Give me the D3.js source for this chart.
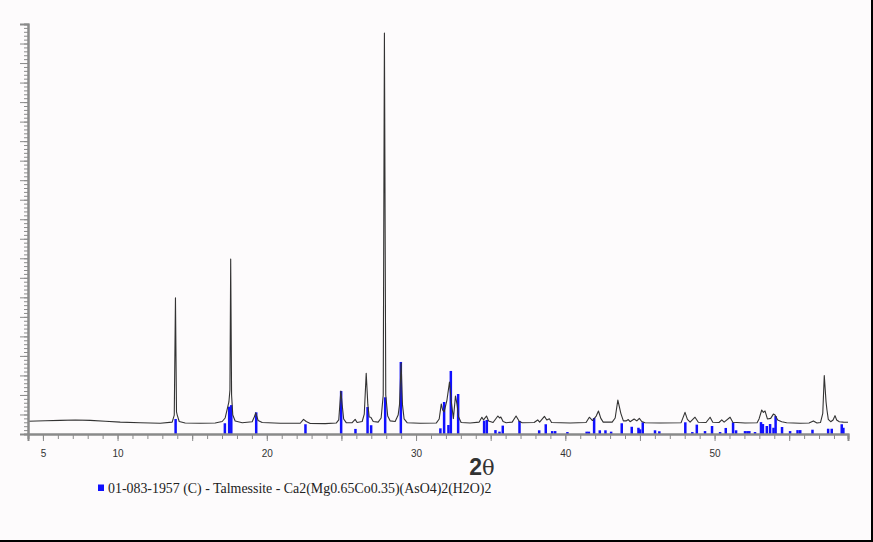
<!DOCTYPE html>
<html><head><meta charset="utf-8">
<script src="https://cdn.jsdelivr.net/npm/d3@7"></script>
<style>
html,body{margin:0;padding:0;background:#fdfbfc;}
svg{display:block;}
</style></head>
<body>
<script>
// ---- data ----
// measured diffraction pattern: [2theta, intensity]
const patternTheta = [4.0,5.16,6.16,7.17,8.17,9.18,10.18,11.52,12.86,13.66,13.80,13.88,13.95,14.0,14.13,14.53,15.54,16.54,17.01,17.21,17.46,17.53,17.58,17.64,17.72,17.88,18.35,19.02,19.16,19.26,19.32,19.42,19.69,20.90,22.24,22.46,22.64,22.91,23.91,24.65,24.82,24.96,25.05,25.15,25.32,25.72,25.92,26.05,26.39,26.53,26.66,26.77,26.86,26.97,27.13,27.46,27.66,27.80,27.88,27.97,28.10,28.27,28.60,28.80,28.89,29.00,29.09,29.20,29.40,30.27,31.35,31.55,31.69,31.78,31.88,32.07,32.24,32.35,32.50,32.64,32.75,32.85,33.02,33.62,34.23,34.41,34.52,34.72,34.86,35.16,35.48,35.60,35.68,35.83,36.04,36.44,36.70,36.91,37.11,37.91,38.15,38.28,38.60,38.76,38.93,39.08,40.32,41.39,41.61,41.82,42.07,42.22,42.38,42.54,43.14,43.34,43.52,43.72,43.89,44.07,44.22,44.34,44.61,44.79,44.96,45.12,45.34,46.35,47.76,48.02,48.18,48.36,48.69,48.91,49.43,49.70,49.88,50.30,50.48,50.64,51.04,51.22,52.04,52.85,52.98,53.16,53.27,53.38,53.54,53.76,53.94,54.05,54.23,54.50,54.83,55.73,56.33,56.62,56.86,57.10,57.25,57.35,57.47,57.53,57.62,57.78,57.94,58.07,58.18,58.36,58.63,58.94];
const patternIntensity = [65,68,70,72,70,65,61,58,55,61,97,697,113,97,64,56,55,56,64,82,164,225,896,200,97,67,58,63,87,108,92,69,59,55,55,75,64,54,53,56,72,220,149,77,58,58,75,59,64,102,311,149,87,86,64,61,82,200,2054,200,92,67,64,97,149,364,149,77,58,55,56,77,154,123,113,174,266,174,79,195,149,87,59,56,61,86,72,92,67,59,92,82,87,64,58,61,92,65,58,59,72,61,90,72,78,59,56,59,86,69,92,118,80,61,61,82,174,106,67,67,74,63,77,67,80,64,58,56,58,111,75,61,86,60,59,86,60,59,72,61,86,60,56,58,77,123,111,118,77,80,102,97,72,63,58,55,56,67,56,59,106,299,164,123,75,63,72,94,72,63,61,60];

// reference pattern 01-083-1957 sticks
const stickTheta = [13.89,17.19,17.48,17.62,19.29,22.59,24.98,25.94,26.75,26.99,27.93,28.98,31.63,31.88,32.17,32.33,32.82,34.56,34.74,35.32,35.59,35.81,36.93,38.25,38.69,39.12,39.32,40.14,41.43,41.58,41.93,42.31,42.69,43.07,43.78,44.45,44.90,45.01,45.19,46.01,46.30,48.04,48.51,48.81,49.36,49.83,50.37,50.75,51.24,51.44,52.04,52.20,52.33,52.71,53.11,53.24,53.50,53.72,53.95,54.09,54.52,55.06,55.56,55.74,56.56,57.61,57.85,58.52,58.63];
const stickIntensity = [77,55,140,148,111,50,220,26,138,45,188,369,29,164,46,323,205,68,72,20,12,43,67,19,50,15,15,10,12,12,82,19,19,12,55,37,32,24,60,19,14,60,10,48,15,41,10,31,60,19,15,15,15,10,61,51,41,51,32,92,36,15,20,20,22,27,27,50,32];

const xTickLabels = [5,10,20,30,40,50];
const xLabelMain = "2";
const xLabelSymbol = "θ";
const legendText = "01-083-1957 (C) - Talmessite - Ca2(Mg0.65Co0.35)(AsO4)2(H2O)2";

// ---- drawing ----
const W = 873, H = 542;
const svg = d3.select("body").append("svg").attr("width", W).attr("height", H);
svg.append("rect").attr("width", W).attr("height", H).attr("fill", "#fdfbfc");

const x = d3.scaleLinear().domain([4, 58.94]).range([28, 848]);
const y = d3.scaleLinear().domain([0, 2100]).range([434, 24]);

// sticks
svg.append("g").selectAll("line").data(stickTheta).join("line")
  .attr("x1", d => x(d)).attr("x2", d => x(d))
  .attr("y1", y(0)).attr("y2", (d, i) => y(stickIntensity[i]))
  .attr("stroke", "#1010ff").attr("stroke-width", 2.5);

// pattern line
const pts = patternTheta.map((t, i) => [t, patternIntensity[i]]);
svg.append("path").datum(pts)
  .attr("d", d3.line().x(d => x(d[0])).y(d => y(d[1])))
  .attr("fill", "none").attr("stroke", "#333").attr("stroke-width", 1.1)
  .attr("stroke-linejoin", "round");

// y axis
const yMinor = d3.range(0, 2101, 20);
const yMajor = d3.range(0, 2101, 100);
const gy = svg.append("g").attr("transform", "translate(28,0)");
gy.call(d3.axisLeft(y).tickValues(yMinor).tickSize(4).tickFormat(""));
gy.append("g").call(d3.axisLeft(y).tickValues(yMajor).tickSize(8).tickFormat(""));
gy.selectAll("path.domain").attr("stroke", "#8a8a8a").attr("stroke-width", 2);
gy.selectAll(".tick line").attr("stroke", "#8a8a8a");

// x axis
const xMinor = d3.range(4, 59, 1);
const xMajor = d3.range(5, 59, 5);
const gx = svg.append("g").attr("transform", "translate(0,434)");
gx.call(d3.axisBottom(x).tickValues(xMinor).tickSize(5).tickFormat(""));
gx.append("g").call(d3.axisBottom(x).tickValues(xMajor).tickSize(7).tickFormat(""));
gx.append("g").call(d3.axisBottom(x).tickValues(xTickLabels).tickSize(0).tickPadding(16).tickFormat(d3.format("d")))
  .call(g => g.select(".domain").remove())
  .selectAll("text").attr("font-family", "Liberation Sans, Arial, sans-serif")
  .attr("font-size", 10).attr("fill", "#333");
gx.selectAll("path.domain").attr("stroke", "#8a8a8a").attr("stroke-width", 2);
gx.selectAll(".tick line").attr("stroke", "#8a8a8a");

// axis title
const t = svg.append("text").attr("x", 482).attr("y", 475).attr("text-anchor", "middle")
  .attr("font-family", "Liberation Sans, Arial, sans-serif").attr("font-size", 23).attr("fill", "#333");
t.append("tspan").attr("font-weight", "bold").text(xLabelMain);
t.append("tspan").attr("font-family", "DejaVu Serif, serif").attr("font-size", 21).text(xLabelSymbol);

// legend
svg.append("rect").attr("x", 98).attr("y", 484.5).attr("width", 6).attr("height", 6.5).attr("fill", "#1010ff");
svg.append("text").attr("x", 108).attr("y", 493)
  .attr("font-family", "Liberation Serif, Times New Roman, serif").attr("font-size", 13.9)
  .attr("fill", "#222").text(legendText);

// frame (right and bottom)
svg.append("line").attr("x1", W - 1).attr("x2", W - 1).attr("y1", 0).attr("y2", H).attr("stroke", "#000").attr("stroke-width", 2);
svg.append("line").attr("x1", 0).attr("x2", W).attr("y1", H - 1).attr("y2", H - 1).attr("stroke", "#000").attr("stroke-width", 2);
</script>
</body></html>
